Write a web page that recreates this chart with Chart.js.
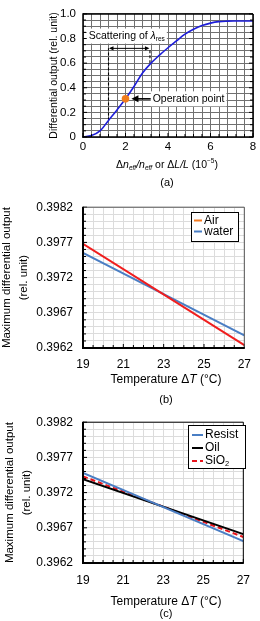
<!DOCTYPE html>
<html>
<head>
<meta charset="utf-8">
<script src="https://cdn.jsdelivr.net/npm/chart.js@4.4.1/dist/chart.umd.min.js"></script>
<style>
  html, body { margin: 0; padding: 0; background: #fff; }
  body { width: 260px; height: 621px; position: relative; overflow: hidden; }
  .box { position: absolute; left: 0; width: 260px; }
</style>
</head>
<body>
<div class="box" style="top:0;height:192px"><canvas id="chartA"></canvas></div>
<div class="box" style="top:190px;height:215px"><canvas id="chartB"></canvas></div>
<div class="box" style="top:405px;height:216px"><canvas id="chartC"></canvas></div>
<script>
// -- Data --
// (a) differential output vs. dn/n or dL/L (units of 1e-5)
const shiftX  = [0, 0.4, 0.8, 1.2, 1.6, 2.0, 2.4, 2.8, 3.2, 3.6, 4.0, 4.4, 4.8, 5.2, 5.6, 6.0, 6.4, 6.8, 7.2, 7.6, 8.0];
const outputY = [0, 0.012, 0.05, 0.135, 0.22, 0.31, 0.41, 0.52, 0.60, 0.665, 0.725, 0.78, 0.835, 0.875, 0.905, 0.925, 0.937, 0.941, 0.942, 0.942, 0.942];
const spanX = [1.2, 3.15];        // scattering of lambda_res
const spanBottom = [0.135, 0.6];
const spanTop = 0.72;
const opX = [2];                  // operation point
const opY = [0.31];
const opArrowX = [2.28, 3.2];
const axisAX = [0, 2, 4, 6, 8];
const axisAY = [0, 0.2, 0.4, 0.6, 0.8, 1.0];

// (b) and (c) max differential output vs temperature
const tempX = [19, 27];
const airY = [0.39768, 0.39624];
const waterY = [0.39755, 0.39638];
const resistY = [0.39748, 0.39651];
const oilY = [0.39739, 0.39661];
const sio2Y = [0.39743, 0.39657];
const axisTemp = [19, 21, 23, 25, 27];
const axisOut = [0.3962, 0.3967, 0.3972, 0.3977, 0.3982];

// -- Helpers --
const FAM = '"Liberation Sans", Arial, sans-serif';
Chart.defaults.font.family = FAM;
Chart.defaults.color = '#000';

const pts = (xs, ys) => xs.map((v, i) => ({x: v, y: ys[i]}));
const labelFor = (v, list, fmt) => {
  const hit = list.find(t => Math.abs(t - v) < 1e-9);
  return hit === undefined ? '' : fmt(hit);
};

function segFont(style, size) {
  const small = style.includes('sub') || style.includes('sup');
  return (style.includes('i') ? 'italic ' : '') + (small ? size * 0.62 : size) + 'px ' + FAM;
}
function richWidth(ctx, segs, size) {
  return segs.reduce((w, [t, s]) => { ctx.font = segFont(s, size); return w + ctx.measureText(t).width; }, 0);
}
function drawRich(ctx, segs, x, cy, size, align) {
  let cx = align === 'center' ? x - richWidth(ctx, segs, size) / 2 : x;
  ctx.textBaseline = 'middle';
  ctx.textAlign = 'left';
  ctx.fillStyle = '#000';
  for (const [t, s] of segs) {
    ctx.font = segFont(s, size);
    const dy = s.includes('sub') ? size * 0.28 : s.includes('sup') ? -size * 0.35 : 0;
    ctx.fillText(t, cx, cy + dy);
    cx += ctx.measureText(t).width;
  }
}
function head(ctx, tx, ty, dir, len, half) {
  ctx.beginPath();
  ctx.moveTo(tx, ty);
  ctx.lineTo(tx - dir * len, ty - half);
  ctx.lineTo(tx - dir * len, ty + half);
  ctx.closePath();
  ctx.fill();
}

// frame + inward tick marks
const frame = {
  id: 'frame',
  afterDatasetsDraw(chart, args, o) {
    const {ctx, chartArea: a, scales: {x, y}} = chart;
    ctx.save();
    ctx.strokeStyle = '#000';
    ctx.lineWidth = 1;
    ctx.beginPath();
    for (const t of y.ticks) {
      const py = y.getPixelForValue(t.value);
      const len = t.label ? o.major : o.minor;
      ctx.moveTo(a.left, py); ctx.lineTo(a.left + len, py);
      if (o.rightTicks) { ctx.moveTo(a.right, py); ctx.lineTo(a.right - len, py); }
    }
    for (const t of x.ticks) {
      const px = x.getPixelForValue(t.value);
      const len = t.label ? o.major : o.minor;
      ctx.moveTo(px, a.bottom); ctx.lineTo(px, a.bottom - len);
    }
    ctx.stroke();
    const edge = (w, c, x1, y1, x2, y2) => {
      ctx.lineWidth = w; ctx.strokeStyle = c;
      ctx.beginPath(); ctx.moveTo(x1, y1); ctx.lineTo(x2, y2); ctx.stroke();
    };
    edge(o.top, o.topColor, a.left, a.top, a.right, a.top);
    edge(o.right, o.topColor, a.right, a.top, a.right, a.bottom);
    edge(o.left, '#000', a.left, a.top - o.top / 2, a.left, a.bottom + o.bottom / 2);
    edge(o.bottom, '#000', a.left - o.left / 2, a.bottom, a.right + o.right / 2, a.bottom);
    ctx.restore();
  }
};

// x-axis titles and panel captions
const captions = {
  id: 'captions',
  afterDraw(chart, args, o) {
    const {ctx} = chart;
    ctx.save();
    for (const it of o.items) drawRich(ctx, it.segs, it.x, it.y, it.size, 'center');
    ctx.restore();
  }
};

// legend drawn inside the plot, in a framed box
const boxLegend = {
  id: 'boxLegend',
  afterDraw(chart, args, o) {
    const {ctx} = chart;
    ctx.save();
    ctx.fillStyle = '#fff';
    ctx.fillRect(o.left, o.top, o.width, o.height);
    ctx.strokeStyle = '#000';
    ctx.lineWidth = 1;
    ctx.strokeRect(o.left + 0.5, o.top + 0.5, o.width, o.height);
    chart.data.datasets.forEach((ds, i) => {
      const yy = o.top + o.first + i * o.row;
      ctx.strokeStyle = ds.legendColor || ds.borderColor;
      ctx.lineWidth = 2;
      ctx.setLineDash(ds.borderDash || []);
      ctx.beginPath(); ctx.moveTo(o.left + o.sw0, yy); ctx.lineTo(o.left + o.sw1, yy); ctx.stroke();
      ctx.setLineDash([]);
      drawRich(ctx, ds.legendSegs || [[ds.label, '']], o.left + o.text, yy, o.size, 'left');
    });
    ctx.restore();
  }
};

// annotations of panel (a)
const notesA = {
  id: 'notesA',
  afterDatasetsDraw(chart) {
    const {ctx, scales: {x, y}} = chart;
    ctx.save();
    ctx.strokeStyle = '#000';
    ctx.fillStyle = '#000';
    const x1 = x.getPixelForValue(spanX[0]), x2 = x.getPixelForValue(spanX[1]), yy = y.getPixelForValue(spanTop);
    ctx.lineWidth = 1;
    ctx.beginPath(); ctx.moveTo(x1 + 2, yy); ctx.lineTo(x2 - 2, yy); ctx.stroke();
    head(ctx, x1 + 0.5, yy, -1, 4.5, 2.2);
    head(ctx, x2 - 0.5, yy, 1, 4.5, 2.2);

    const ax1 = x.getPixelForValue(opArrowX[0]), ax2 = x.getPixelForValue(opArrowX[1]), ay = y.getPixelForValue(opY[0]);
    ctx.lineWidth = 1.6;
    ctx.beginPath(); ctx.moveTo(ax1 + 5, ay); ctx.lineTo(ax2, ay); ctx.stroke();
    head(ctx, ax1, ay, -1, 7, 3.5);

    const boxes = [
      {segs: [['Scattering of ', ''], ['λ', 'i'], ['res', 'sub']], px: x.getPixelForValue(0.27), py: y.getPixelForValue(0.82)},
      {segs: [['Operation point', '']], px: x.getPixelForValue(3.28), py: ay}
    ];
    for (const b of boxes) {
      const w = richWidth(ctx, b.segs, 10.5);
      ctx.fillStyle = '#fff';
      ctx.fillRect(b.px - 2, b.py - 7.5, w + 4, 15);
      drawRich(ctx, b.segs, b.px, b.py, 10.5, 'left');
    }
    ctx.restore();
  }
};

// -- Chart (a) --
new Chart(document.getElementById('chartA'), {
  type: 'scatter',
  data: {
    datasets: [
      {label: 'Operation point', data: pts(opX, opY), pointRadius: 3.8, pointBackgroundColor: '#f07c1c', pointBorderWidth: 0},
      {label: 'curve', data: pts(shiftX, outputY), showLine: true, borderColor: '#1e1ed8', borderWidth: 1.6,
       pointRadius: 0, tension: 0.4},
      {label: 'span left', data: pts([spanX[0], spanX[0]], [spanBottom[0], spanTop]), showLine: true,
       borderColor: '#000', borderWidth: 1.1, borderDash: [3, 2], pointRadius: 0},
      {label: 'span right', data: pts([spanX[1], spanX[1]], [spanBottom[1], spanTop]), showLine: true,
       borderColor: '#000', borderWidth: 1.1, borderDash: [3, 2], pointRadius: 0}
    ]
  },
  options: {
    responsive: true,
    maintainAspectRatio: false,
    animation: false,
    events: [],
    layout: {padding: {left: 0, right: 7, top: 6, bottom: 0}},
    scales: {
      x: {
        type: 'linear', min: 0, max: 8,
        afterFit: s => { s.height = 55; },
        border: {display: false},
        grid: {color: '#707070', lineWidth: 1, drawTicks: false},
        ticks: {stepSize: 0.4, autoSkip: false, maxRotation: 0, minRotation: 0, padding: 3, font: {size: 11.5},
                callback: v => labelFor(v, axisAX, t => String(t))}
      },
      y: {
        type: 'linear', min: 0, max: 1,
        afterFit: s => { s.width = 83; },
        border: {display: false},
        grid: {color: '#707070', lineWidth: 1, drawTicks: false},
        title: {display: true, text: 'Differential output (rel. unit)', font: {size: 10.5}, padding: {top: 48, bottom: 0}},
        ticks: {stepSize: 0.05, autoSkip: false, padding: 7, font: {size: 11.5},
                callback: v => labelFor(v, axisAY, t => t === 0 ? '0' : t.toFixed(1))}
      }
    },
    plugins: {
      legend: {display: false},
      tooltip: {enabled: false},
      frame: {top: 1.5, right: 1.5, left: 1.5, bottom: 1.5, topColor: '#000', major: 4, minor: 3, rightTicks: true},
      captions: {items: [
        {segs: [['Δ', ''], ['n', 'i'], ['eff', 'isub'], ['/', 'i'], ['n', 'i'], ['eff', 'isub'], [' or Δ', ''], ['L/L', 'i'], [' (10', ''], ['−5', 'sup'], [')', '']],
         x: 167, y: 165, size: 10.5},
        {segs: [['(a)', '']], x: 167, y: 183, size: 11}
      ]}
    }
  },
  plugins: [frame, notesA, captions]
});

// -- Charts (b) and (c) --
function tempChart(id, datasets, opts) {
  return new Chart(document.getElementById(id), {
    type: 'scatter',
    data: {datasets},
    options: {
      responsive: true,
      maintainAspectRatio: false,
      animation: false,
      events: [],
      layout: {padding: {left: 0, right: 7, top: opts.top, bottom: 0}},
      elements: {point: {radius: 0}, line: {borderWidth: 2}},
      scales: {
        x: {
          type: 'linear', min: 19, max: 27,
          afterFit: s => { s.height = opts.xh; },
          border: {display: false},
          grid: {color: '#dcdcdc', lineWidth: 1, drawTicks: false},
          ticks: {stepSize: 0.5, autoSkip: false, maxRotation: 0, minRotation: 0, padding: opts.xpad, font: {size: 12},
                  callback: v => labelFor(v, axisTemp, t => String(t))}
        },
        y: {
          type: 'linear', min: 0.3962, max: 0.3982,
          afterFit: s => { s.width = 83; },
          border: {display: false},
          grid: {color: '#dcdcdc', lineWidth: 1, drawTicks: false},
          title: {display: true, text: ['Maximum differential output', '(rel. unit)'],
                  font: {size: 11.5, lineHeight: '17px'}, padding: {top: opts.ytitle, bottom: 0}},
          ticks: {stepSize: 0.0001, autoSkip: false, padding: 10, font: {size: 12},
                  callback: v => labelFor(v, axisOut, t => t.toFixed(4))}
        }
      },
      plugins: {
        legend: {display: false},
        tooltip: {enabled: false},
        frame: {top: 1, right: 1, left: 2, bottom: 2, topColor: opts.topColor, major: 4, minor: 3, rightTicks: false},
        boxLegend: opts.legend,
        captions: {items: [
          {segs: [['Temperature Δ', ''], ['T', 'i'], [' (°C)', '']], x: 166, y: opts.titleY, size: 12},
          {segs: [[opts.caption, '']], x: 166, y: opts.capY, size: 11}
        ]}
      }
    },
    plugins: [frame, boxLegend, captions]
  });
}

tempChart('chartB', [
  {label: 'Air', data: pts(tempX, airY), showLine: true, borderColor: '#f01e1e', legendColor: '#f47a20'},
  {label: 'water', data: pts(tempX, waterY), showLine: true, borderColor: '#4a7ec4'}
], {top: 10, xh: 57, xpad: 9, ytitle: -2, topColor: '#555', titleY: 190, capY: 210, caption: '(b)',
    legend: {left: 191, top: 22, width: 47, height: 29, first: 8.5, row: 11, sw0: 3, sw1: 11, text: 13, size: 12}});

tempChart('chartC', [
  {label: 'Resist', data: pts(tempX, resistY), showLine: true, borderColor: '#4a7ec4'},
  {label: 'Oil', data: pts(tempX, oilY), showLine: true, borderColor: '#000'},
  {label: 'SiO2', data: pts(tempX, sio2Y), showLine: true, borderColor: '#e8141c', borderDash: [5, 3],
   legendSegs: [['SiO', ''], ['2', 'sub']]}
], {top: 15, xh: 58, xpad: 10, ytitle: 1, topColor: '#000', titleY: 197, capY: 209, caption: '(c)',
    legend: {left: 188, top: 20, width: 57, height: 43, first: 10, row: 13, sw0: 4, sw1: 15, text: 17, size: 12}});
</script>
</body>
</html>
